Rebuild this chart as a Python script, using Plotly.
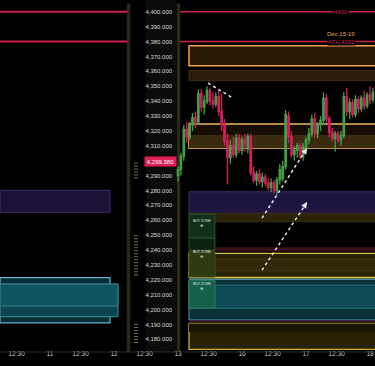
import plotly.graph_objects as go

# ---------------- data ----------------
# candle OHLC (hourly-ish bars, Dec 13 -> Dec 18)
opens  = [4290,4294,4303,4321,4316,4324,4329,4326,4345,4336,4340,4347,4340,4338,4343,4333,4324,4313,4302,4310,4304,4315,4307,4314,4308,4316,4292,4287,4291,4286,4289,4285,4282,4285,4280,4287,4288,4296,4330,4316,4304,4307,4310,4303,4309,4314,4318,4328,4318,4324,4327,4342,4328,4319,4315,4318,4314,4317,4343,4333,4339,4331,4341,4335,4342,4337,4344,4341]
highs  = [4296,4305,4324,4326,4326,4332,4333,4348,4348,4344,4350,4349,4346,4346,4347,4345,4328,4318,4314,4316,4318,4318,4316,4318,4318,4318,4296,4293,4294,4292,4291,4288,4288,4287,4289,4298,4300,4334,4333,4320,4310,4312,4312,4312,4316,4322,4331,4332,4326,4330,4346,4345,4330,4322,4320,4320,4320,4346,4349,4342,4341,4344,4343,4344,4347,4346,4350,4349]
lows   = [4286,4290,4300,4312,4314,4320,4322,4324,4333,4331,4338,4337,4335,4336,4330,4320,4310,4284,4298,4302,4302,4305,4304,4306,4305,4290,4285,4283,4284,4282,4283,4280,4279,4278,4277,4284,4286,4294,4312,4302,4300,4302,4301,4300,4306,4311,4316,4315,4315,4320,4324,4325,4316,4313,4306,4312,4310,4315,4330,4328,4329,4329,4332,4333,4334,4335,4338,4339]
closes = [4294,4303,4321,4316,4324,4329,4326,4345,4336,4340,4347,4340,4338,4343,4333,4324,4313,4302,4310,4304,4315,4307,4314,4311,4316,4292,4287,4291,4286,4289,4285,4282,4285,4280,4287,4294,4296,4331,4316,4304,4307,4310,4303,4309,4314,4318,4328,4318,4324,4327,4342,4328,4319,4315,4318,4314,4317,4343,4333,4339,4331,4341,4335,4342,4337,4344,4341,4346]
bars_per_day = 22
first_bar_day = 3.0

# time axis ticks (trading-day index: 11 -> 1)
x_tick_pos    = [0.48, 1, 1.48, 2, 2.48, 3, 3.48, 4, 4.48, 5, 5.48, 6]
x_tick_labels = ["12:30","11","12:30","12","12:30","13","12:30","16","12:30","17","12:30","18"]
x_range = [0.219, 6.078]

# price axis ticks
price_ticks = [4400,4390,4380,4370,4360,4350,4340,4330,4320,4310,4300,4290,4280,4270,4260,4250,4240,4230,4220,4210,4200,4190,4180]
price_tick_labels = ["4,400.000","4,390.000","4,380.000","4,370.000","4,360.000","4,350.000","4,340.000","4,330.000","4,320.000","4,310.000","4,300.000","4,290.000","4,280.000","4,270.000","4,260.000","4,250.000","4,240.000","4,230.000","4,220.000","4,210.000","4,200.000","4,190.000","4,180.000"]
y_range = [4171.5, 4407.9]
last_price = 4299.38
last_price_label = "4,299.380"

# key levels
level_4400 = 4400
level_ath = 4380
ath_label = "ATH 4382"
week_label = "Dec 15-19"

# right-panel zones: (x0, x1, y_low, y_high, fill, border, border_width)
right_zones = [
    (3.172, 6.2, 4363.7, 4377.2, "#2a1a06", "#f0a050", 1.5),
    (3.172, 6.2, 4353.7, 4360.4, "#2a1c08", "#3e2c10", 1),
    (3.172, 6.2, 4308.3, 4324.6, "#160e04", "#f2b466", 1.5),
    (3.172, 6.2, 4308.3, 4317.2, "#3a2a0e", "rgba(0,0,0,0)", 0),
    (3.172, 6.2, 4264.6, 4279.1, "#1d1440", "#3c2e70", 1),
    (3.172, 6.2, 4259.0, 4264.6, "#2b2208", "#3a300c", 1),
    (3.172, 6.2, 4239.2, 4241.9, "#3a1010", "rgba(0,0,0,0)", 0),
    (3.172, 6.2, 4221.6, 4237.8, "#2a2206", "#d8c040", 1.3),
    (3.172, 6.2, 4226.0, 4234.0, "#302808", "#4a3e10", 0.8),
    (3.172, 6.2, 4219.8, 4221.2, "#6a6448", "rgba(0,0,0,0)", 0),
    (3.172, 6.2, 4193.0, 4220.3, "#0a3038", "#4a9ab0", 1),
    (3.172, 6.2, 4200.9, 4216.4, "#0d4a55", "#2f7f90", 0.8),
    (3.172, 6.2, 4191.6, 4192.6, "#3a1030", "rgba(0,0,0,0)", 0),
    (3.172, 6.2, 4173.3, 4190.7, "#2a2006", "#c8b040", 1.3),
    (3.172, 6.2, 4185.0, 4190.7, "#1c1604", "rgba(0,0,0,0)", 0),
]
# left-panel zones
left_zones = [
    (0.219, 1.9375, 4265.3, 4280.1, "#1c1238", "#3c2d6e", 1),
    (0.219, 1.9375, 4191.1, 4221.4, "#082e36", "#6ab0d0", 1.2),
    (0.219, 2.0625, 4195.2, 4217.1, "#0b4550", "#4a8aa0", 1),
    (0.219, 2.0625, 4202.4, 4217.1, "#0e5560", "#4a8aa0", 0.8),
]
# buy-zone boxes (x0, x1, y_low, y_high, fill, border)
buy_zones = [
    (3.172, 3.578, 4248.0, 4264.1, "#10301a", "#2e5a30"),
    (3.172, 3.578, 4240.0, 4248.0, "#0c200f", "#2e5a30"),
    (3.172, 3.578, 4221.8, 4239.4, "#2e3a12", "#3e5a28"),
    (3.172, 3.578, 4201.0, 4219.8, "#15604a", "#3a8060"),
]
buy_label_prices = [4257.5, 4236.8, 4215.6]
buy_label_text = "BUY ZONE"

# dashed arrows: (x_start, y_start, x_end, y_end)
arrows = [
    (3.469, 4352.1, 3.859, 4342.0),
    (4.3125, 4261.4, 5.016, 4308.4),
    (4.3125, 4226.5, 5.016, 4272.2),
]

# separators (trading-day index)
separators = [2.219, 3.0]
profile_x = 2.344
profile_segments = [(4288, 4299.5), (4223, 4251), (4177.5, 4191)]

# ---------------- figure ----------------
RED = "#cc1f50"
FONT = "Liberation Sans"
fig = go.Figure()

shapes = []
# middle price-scale column background
shapes.append(dict(type="rect", xref="x", yref="paper", x0=2.5, x1=2.97, y0=0, y1=1,
                   fillcolor="#0b0b0b", line=dict(width=0), layer="below"))
for (x0, x1, ylo, yhi, fill, border, bw) in left_zones + right_zones:
    shapes.append(dict(type="rect", xref="x", yref="y", x0=x0, x1=x1, y0=ylo, y1=yhi,
                       fillcolor=fill, line=dict(color=border, width=bw), layer="below"))
for (x0, x1, ylo, yhi, fill, border) in buy_zones:
    shapes.append(dict(type="rect", xref="x", yref="y", x0=x0, x1=x1, y0=ylo, y1=yhi,
                       fillcolor=fill, line=dict(color=border, width=0.8), layer="below"))
# separators
for sx in separators:
    shapes.append(dict(type="rect", xref="x", yref="paper", x0=sx - 0.02, x1=sx + 0.035,
                       y0=0.0, y1=0.99, fillcolor="#2a2818", line=dict(width=0), layer="below"))
# key level lines
for lvl in (level_4400, level_ath):
    shapes.append(dict(type="line", xref="x", yref="y", x0=x_range[0], x1=2.21, y0=lvl, y1=lvl,
                       line=dict(color=RED, width=2)))
    shapes.append(dict(type="line", xref="x", yref="y", x0=3.03, x1=6.2, y0=lvl, y1=lvl,
                       line=dict(color=RED, width=1.5)))
# volume-profile dotted column
for (a, b) in profile_segments:
    shapes.append(dict(type="line", xref="x", yref="y", x0=profile_x, x1=profile_x, y0=a, y1=b,
                       line=dict(color="#6a6a6a", width=4, dash="1px,2px")))
# dashed arrows
for (xa, ya, xb, yb) in arrows:
    shapes.append(dict(type="line", xref="x", yref="y", x0=xa, y0=ya, x1=xb, y1=yb,
                       line=dict(color="#e8e8e8", width=1.5, dash="3px,3px")))
# bottom axis line
shapes.append(dict(type="line", xref="paper", yref="paper", x0=0, x1=1, y0=0, y1=0,
                   line=dict(color="#2a2a2a", width=1)))

bar_x = [first_bar_day + i / bars_per_day for i in range(len(opens))]
fig.add_trace(go.Candlestick(
    x=bar_x, open=opens, high=highs, low=lows, close=closes,
    increasing=dict(line=dict(color="#43a047", width=1.3), fillcolor="#43a047"),
    decreasing=dict(line=dict(color="#d81b60", width=1.3), fillcolor="#d81b60"),
    whiskerwidth=0, showlegend=False, hoverinfo="skip"))

annotations = []
# arrow heads
for (xa, ya, xb, yb) in arrows:
    annotations.append(dict(x=xb, y=yb, ax=xb - (xb - xa) * 0.08, ay=yb - (yb - ya) * 0.08,
                            xref="x", yref="y", axref="x", ayref="y", text="", showarrow=True,
                            arrowhead=2, arrowsize=1, arrowwidth=1.2, arrowcolor="#e8e8e8"))
annotations.append(dict(x=5.55, y=level_4400, xref="x", yref="y", text="4400", showarrow=False,
                        font=dict(size=6, color=RED, family=FONT), bgcolor="#000000",
                        borderpad=0))
annotations.append(dict(x=5.55, y=level_ath, xref="x", yref="y", text=ath_label, showarrow=False,
                        font=dict(size=6, color=RED, family=FONT), bgcolor="#000000",
                        borderpad=0))
annotations.append(dict(x=5.55, y=level_ath + 5.3, xref="x", yref="y", text=week_label, showarrow=False,
                        font=dict(size=6, color="#f0a040", family=FONT)))
for p in buy_label_prices:
    annotations.append(dict(x=3.375, y=p, xref="x", yref="y", text=buy_label_text + "<br>⊕",
                            showarrow=False, font=dict(size=3.5, color="#e0e0e0", family=FONT)))
annotations.append(dict(x=2.725, y=last_price, xref="x", yref="y", text=last_price_label,
                        showarrow=False, font=dict(size=6, color="#ffffff", family=FONT),
                        bgcolor="#e01e5a", borderpad=1.5, width=28))

fig.update_layout(
    width=375, height=366,
    margin=dict(l=0, r=0, t=0, b=14, autoexpand=False),
    paper_bgcolor="#000000", plot_bgcolor="#000000",
    shapes=shapes, annotations=annotations,
    showlegend=False,
    xaxis=dict(range=x_range, tickvals=x_tick_pos, ticktext=x_tick_labels,
               showgrid=False, zeroline=False, showline=False, ticks="",
               automargin=False, ticklabelstandoff=-4,
               tickfont=dict(size=6.5, color="#c8c8c8", family=FONT),
               rangeslider=dict(visible=False), fixedrange=True),
    yaxis=dict(range=y_range, tickvals=price_ticks, ticktext=price_tick_labels,
               showgrid=False, zeroline=False, showline=False, ticks="",
               anchor="free", position=0.385, side="right", automargin=False,
               tickfont=dict(size=6, color="#d8d8d8", family=FONT), fixedrange=True),
)

fig.write_html("out.html", config={"displayModeBar": False, "staticPlot": True},
               post_script="document.body.style.margin='0';document.body.style.background='#000';")
